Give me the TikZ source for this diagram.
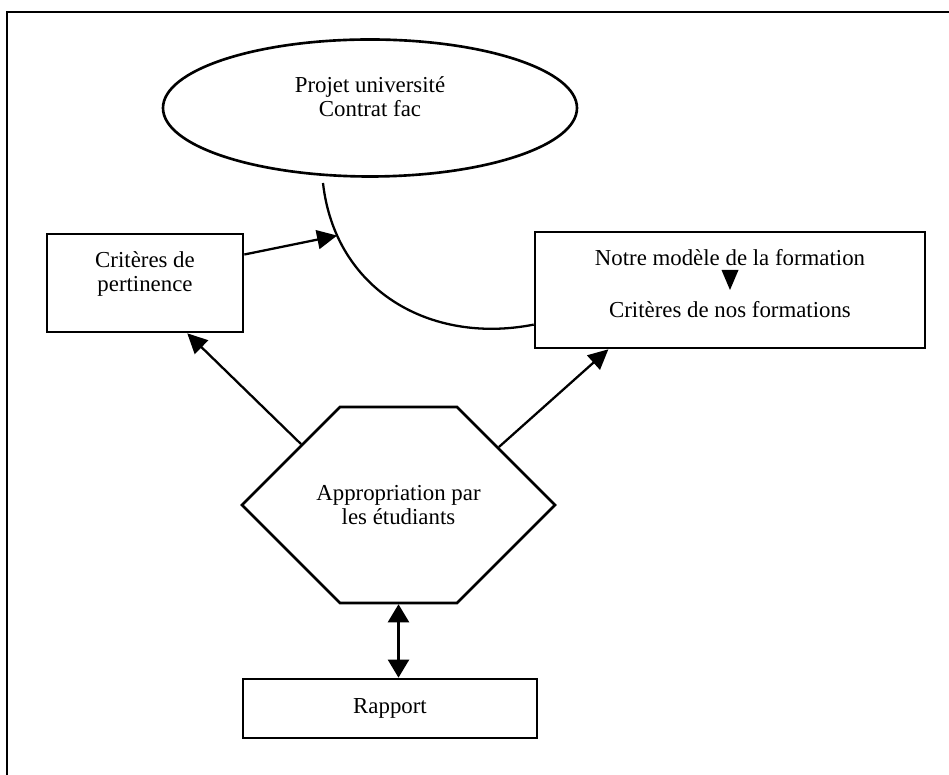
\documentclass[tikz,border=0pt]{standalone}
\usepackage{fontspec}
\setmainfont{Liberation Serif}
\usetikzlibrary{shapes.geometric,shapes.misc,arrows.meta}

\begin{document}
\begin{tikzpicture}[box/.style={draw, line width=1.5pt, inner sep=0pt},
        txt/.style={align=center, font=\fontsize{13}{14}\selectfont},
        arr/.style={line width=1.3pt, -{Triangle[length=4mm,width=3.8mm]}}]
    \useasboundingbox (0, 0) rectangle (18.98, 15.5);
    \draw[line width=1.5pt](18.98, 15.26) -- (0.14, 15.26) -- (0.14, 0);

    \node[box, ellipse, minimum width=8.28cm, minimum height=2.74cm, label={[txt, yshift=0.23cm]center:{Projet université\\Contrat fac}}] at (7.4, 13.34) (proj) {};
    \node[box, minimum width=3.92cm, minimum height=1.96cm, label={[txt, yshift=0.18cm]center:{Critères de\\pertinence}}] at (2.9, 9.84) (crit) {};
    \node[box, minimum width=7.8cm, minimum height=2.32cm, label={[txt, yshift=0.13cm]center:{Notre modèle de la formation\\[16pt]Critères de nos formations}}] at (14.6, 9.7) (model) {};
    \fill([xshift=-0.17cm, yshift=0.4cm]model.center) -- ([xshift=0.17cm, yshift=0.4cm]model.center) -- (model.center) -- cycle;

    \node[box, txt, chamfered rectangle, chamfered rectangle xsep=1.46cm, chamfered rectangle ysep=1.56cm, minimum width=6.26cm, minimum height=3.12cm] at (7.97, 5.4) (appr) {Appropriation par\\les étudiants};
    \node[box, txt, minimum width=5.88cm, minimum height=1.18cm] at (7.8, 1.33) (rap) {Rapport};

    \coordinate (arctop) at (6.46, 11.84);
    \draw[line width=1.3pt](arctop) .. controls (6.7, 9.7) and (8.6, 8.6) .. (model.190) coordinate[pos=0.18] (hit);

    \draw[arr](crit.16) -- (hit);
    \draw[arr](appr.148.6) -- (crit.-50);
    \draw[arr](appr.30.6) -- (model.206.4);
    \draw[line width=1.3pt, {Triangle[length=3.6mm,width=4.2mm]}-{Triangle[length=3.6mm,width=4.2mm]}](appr.south) -- (appr.south |- rap.north);
\end{tikzpicture}
\end{document}
